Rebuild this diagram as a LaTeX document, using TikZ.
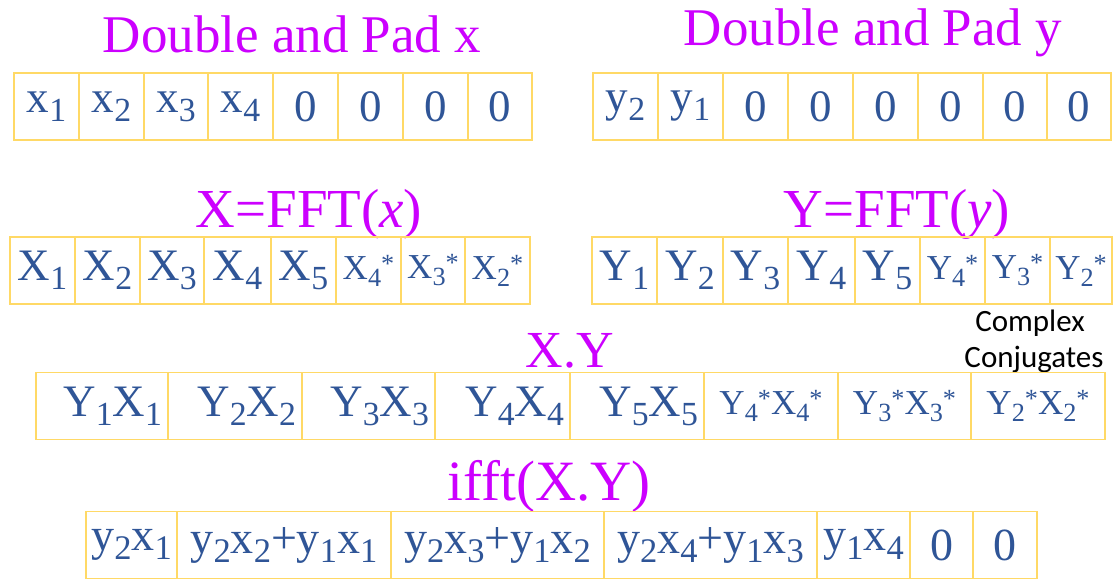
\documentclass[tikz,border=0pt]{standalone}
\usepackage{fontspec}
\setmainfont{Liberation Serif}
\newfontfamily\calibri{Carlito}
\usetikzlibrary{positioning}
\definecolor{cellblue}{RGB}{47,85,151}
\definecolor{cellgold}{RGB}{255,217,102}
\definecolor{titlemag}{RGB}{204,0,255}
\newcommand{\ix}[1]{\raisebox{-.2em}{\scalebox{.75}{#1}}}
\newcommand{\cj}{\raisebox{.2em}{\scalebox{.75}{*}}}

\begin{document}
\begin{tikzpicture}[x=1pt,y=-1pt,
  cell/.style={draw=cellgold,line width=1.2pt,inner sep=0pt,outer sep=0pt,minimum height=67,
    text=cellblue,font=\fontsize{45}{48}\selectfont},
  bigtxt/.style={font=\fontsize{45}{48}\selectfont},
  smalltxt/.style={font=\fontsize{35}{40}\selectfont},
  bigr/.style={bigtxt,align=right},
  smallc/.style={smalltxt,align=center},
  ttl/.style={text=titlemag,anchor=base,inner sep=0pt,font=\fontsize{54}{58}\selectfont}]
\useasboundingbox (0,0) rectangle (1115,584);
% titles
\node[ttl,font=\fontsize{53}{58}\selectfont] (tpx) at (292,52) {Double and Pad x};
\node[ttl,font=\fontsize{53}{58}\selectfont] (tpy) at (873,45) {Double and Pad y};
\node[ttl,font=\fontsize{55}{58}\selectfont] (tfx) at (309,227) {X=FFT(\textit{x})};
\node[ttl,font=\fontsize{55}{58}\selectfont] (tfy) at (897,227) {Y=FFT(\textit{y})};
\node[ttl,font=\fontsize{52}{58}\selectfont] (tpr) at (570,367) {X.Y};
\node[ttl,font=\fontsize{57}{60}\selectfont] (tiv) at (549,500) {ifft(X.Y)};
\node[anchor=base,inner sep=0pt,font=\calibri\fontsize{31}{34}\selectfont] (cc1) at (1030,331) {Complex};
\node[anchor=base,inner sep=0pt,font=\calibri\fontsize{31}{34}\selectfont] (cc2) at (1034,367) {Conjugates};
% padded inputs
\foreach \l/\r/\t [count=\i] in {14/79/x\ix1,79/144/x\ix2,144/208/x\ix3,208/273/x\ix4,
    273/338/0,338/403/0,403/468/0,468/532/0}
  \node[cell,minimum width=\r-\l] (xp\i) at ({(\l+\r)/2},106.5) {\t};
\foreach \l/\r/\t [count=\i] in {593/658/y\ix2,658/723/y\ix1,723/788/0,788/853/0,
    853/918/0,918/983/0,983/1047/0,1047/1111/0}
  \node[cell,minimum width=\r-\l] (yp\i) at ({(\l+\r)/2},106.5) {\t};
% spectra
\foreach \l/\r/\t/\s [count=\i] in {10/75/X\ix1/bigtxt,75/140/X\ix2/bigtxt,140/204/X\ix3/bigtxt,
    204/271/X\ix4/bigtxt,271/336/X\ix5/bigtxt,336/401/X\ix4\cj/smalltxt,
    401/465/X\ix3\cj/smalltxt,465/530/X\ix2\cj/smalltxt}
  \node[cell,\s,minimum width=\r-\l] (fx\i) at ({(\l+\r)/2},270.5) {\t};
\foreach \l/\r/\t/\s [count=\i] in {592/657/Y\ix1/bigtxt,657/723/Y\ix2/bigtxt,723/788/Y\ix3/bigtxt,
    788/855/Y\ix4/bigtxt,855/920/Y\ix5/bigtxt,920/985/Y\ix4\cj/smalltxt,
    985/1050/Y\ix3\cj/smalltxt,1050/1112/Y\ix2\cj/smalltxt}
  \node[cell,\s,minimum width=\r-\l] (fy\i) at ({(\l+\r)/2},270.5) {\t};
% product
\foreach \l/\r/\t/\s [count=\i] in {36/168/Y\ix1X\ix1/bigr,168/302/Y\ix2X\ix2/bigr,
    302/435/Y\ix3X\ix3/bigr,435/570/Y\ix4X\ix4/bigr,570/704/Y\ix5X\ix5/bigr,
    704/838/Y\ix4\cj X\ix4\cj/smallc,838/971/Y\ix3\cj X\ix3\cj/smallc,971/1105/Y\ix2\cj X\ix2\cj/smallc}
  {\pgfmathsetmacro\tw{\r-\l-12}
   \node[cell,\s,minimum width=\r-\l,text width=\tw pt] (pr\i) at ({(\l+\r)/2},406) {\t};}
% inverse
\foreach \l/\r/\t [count=\i] in {86/177/y\ix2x\ix1,177/391/y\ix2x\ix2+y\ix1x\ix1,
    391/604/y\ix2x\ix3+y\ix1x\ix2,604/817/y\ix2x\ix4+y\ix1x\ix3,817/910/y\ix1x\ix4,910/973/0,973/1037/0}
  \node[cell,font=\fontsize{46}{48}\selectfont,minimum width=\r-\l] (iv\i) at ({(\l+\r)/2},545) {\t};
\end{tikzpicture}
\end{document}
